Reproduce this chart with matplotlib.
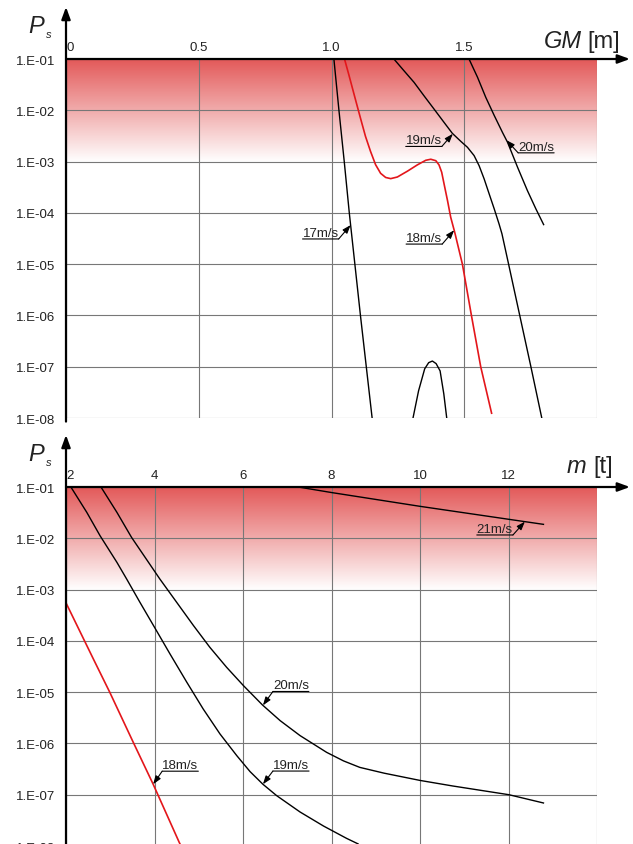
import numpy as np
import matplotlib
matplotlib.use('Agg')
import matplotlib.pyplot as plt

plt.rcParams['font.family'] = ['Liberation Sans', 'DejaVu Sans']

# ---- upper panel: P_s against GM [m] ----
gm_17 = [1.009, 1.028, 1.048, 1.067, 1.088, 1.109, 1.131, 1.153]
ps_17 = [1e-1, 1e-2, 1e-3, 1e-4, 1e-5, 1e-6, 1e-7, 1e-8]
gm_17b = [1.307, 1.328, 1.351, 1.366, 1.380, 1.394, 1.409, 1.423, 1.434]
ps_17b = [1e-8, 3.4e-8, 9.1e-8, 1.2e-7, 1.29e-7, 1.15e-7, 8.3e-8, 2.95e-8, 1e-8]
gm_18 = [1.049, 1.065, 1.082, 1.097, 1.112, 1.128, 1.147, 1.166, 1.185, 1.204,
         1.223, 1.248, 1.286, 1.323, 1.355, 1.374, 1.393, 1.405, 1.415, 1.424,
         1.437, 1.449, 1.464, 1.493, 1.527, 1.562, 1.603]
ps_18 = [1e-1, 5.0e-2, 2.34e-2, 1.2e-2, 6.2e-3, 3.1e-3, 1.58e-3, 8.7e-4, 5.9e-4, 4.9e-4,
         4.65e-4, 5.0e-4, 6.5e-4, 8.6e-4, 1.06e-3, 1.11e-3, 1.04e-3, 8.6e-4, 6.2e-4, 3.66e-4,
         1.73e-4, 8.2e-5, 4.2e-5, 1e-5, 1e-6, 1e-7, 1.24e-8]
gm_19 = [1.235, 1.273, 1.311, 1.348, 1.386, 1.424, 1.455, 1.487, 1.512, 1.537,
         1.556, 1.575, 1.594, 1.613, 1.631, 1.642, 1.667, 1.709, 1.751, 1.792]
ps_19 = [1e-1, 5.9e-2, 3.5e-2, 1.93e-2, 1.06e-2, 5.8e-3, 3.56e-3, 2.48e-3, 1.9e-3, 1.31e-3,
         8.3e-4, 4.58e-4, 2.33e-4, 1.19e-4, 6.1e-5, 3.9e-5, 1e-5, 1e-6, 1e-7, 1e-8]
gm_20 = [1.518, 1.550, 1.581, 1.613, 1.644, 1.663, 1.701, 1.738, 1.770, 1.799]
ps_20 = [1e-1, 4.4e-2, 1.79e-2, 7.9e-3, 3.7e-3, 2.38e-3, 7.7e-4, 2.71e-4, 1.19e-4, 5.9e-5]

# ---- lower panel: P_s against m [t] ----
m_18 = [2.0, 2.62, 2.99, 3.52, 3.97, 4.56, 4.60]
pm_18 = [5.5e-4, 4.4e-5, 9.9e-6, 1.05e-6, 1.6e-7, 1.17e-8, 1e-8]
m_19 = [2.11, 2.47, 2.77, 3.15, 3.37, 3.67, 4.0, 4.35, 4.73, 5.10, 5.48, 5.86,
        6.16, 6.45, 6.76, 7.29, 7.82, 8.34, 8.60]
pm_19 = [1e-1, 3.2e-2, 1.12e-2, 3.4e-3, 1.61e-3, 5.66e-4, 1.84e-4, 5.56e-5, 1.56e-5,
         4.7e-6, 1.53e-6, 5.77e-7, 2.82e-7, 1.6e-7, 9.6e-8, 4.6e-8, 2.45e-8,
         1.41e-8, 1.1e-8]
m_20 = [2.79, 3.15, 3.48, 4.12, 4.50, 4.88, 5.25, 5.63, 6.01, 6.44, 6.84, 7.29,
        7.89, 8.27, 8.64, 9.19, 10.0, 10.74, 12.01, 12.79]
pm_20 = [1e-1, 3.21e-2, 1.045e-2, 1.61e-3, 5.66e-4, 1.99e-4, 7.5e-5, 3.05e-5,
         1.34e-5, 5.62e-6, 2.78e-6, 1.42e-6, 6.7e-7, 4.57e-7, 3.41e-7, 2.63e-7,
         1.9e-7, 1.48e-7, 1e-7, 6.9e-8]
m_21 = [7.25, 8.0, 10.0, 12.0, 12.79]
pm_21 = [1e-1, 7.8e-2, 4.2e-2, 2.35e-2, 1.87e-2]

y_ticks = [1e-1, 1e-2, 1e-3, 1e-4, 1e-5, 1e-6, 1e-7, 1e-8]
y_labels = ['1.E-01', '1.E-02', '1.E-03', '1.E-04', '1.E-05', '1.E-06', '1.E-07', '1.E-08']
gm_ticks = [0, 0.5, 1.0, 1.5, 2.0]
gm_labels = ['0', '0.5', '1.0', '1.5', '']
m_ticks = [2, 4, 6, 8, 10, 12, 14]
m_labels = ['2', '4', '6', '8', '10', '12', '']

RED = '#e3161b'
FS = 9.5


def tag(ax, xs, ys, x0, text, dx, dy):
    y0 = 10 ** np.interp(x0, xs, np.log10(ys))
    ha = 'right' if dx < 0 else 'left'
    t = ax.annotate(text, xy=(x0, y0), xytext=(dx, dy), textcoords='offset points',
                    ha=ha, va='bottom', fontsize=FS, color='#222222')
    ax.annotate('', xy=(0, 0), xycoords=t, xytext=(1, 0), textcoords=t,
                arrowprops=dict(arrowstyle='-', lw=0.8, color='k', shrinkA=0, shrinkB=0))
    ax.annotate('', xy=(x0, y0), xytext=(dx, dy), textcoords='offset points',
                arrowprops=dict(arrowstyle='-|>,head_length=0.5,head_width=0.18',
                                lw=0.8, color='k', shrinkA=0, shrinkB=0,
                                mutation_scale=10))


def setup(ax, xlim, ticks, labels, xname, unit, ylab_y):
    # red gradient between 1E-01 and 1E-03
    grad = np.linspace(0, 1, 256)[:, None]
    top = np.array([0.89, 0.35, 0.35])
    img = top[None, None, :] * (1 - grad[:, :, None]) + grad[:, :, None]
    ax.imshow(img, extent=[0, 1, 5 / 7, 1], transform=ax.transAxes,
              aspect='auto', zorder=0, interpolation='bilinear')
    ax.set_yscale('log')
    ax.set_xlim(*xlim)
    ax.set_ylim(1e-8, 1e-1)
    ax.set_xticks(ticks)
    ax.set_xticklabels(labels, fontsize=FS, color='#222222')
    ax.xaxis.tick_top()
    ax.get_xticklabels()[0].set_ha('left')
    ax.set_yticks(y_ticks)
    ax.set_yticklabels(y_labels, fontsize=FS, color='#222222')
    ax.minorticks_off()
    ax.tick_params(length=0)
    ax.tick_params(axis='x', pad=4)
    ax.tick_params(axis='y', pad=8)
    ax.grid(True, color='#777777', lw=0.8)
    for s in ax.spines.values():
        s.set_visible(False)
    arrow = dict(arrowstyle='-|>,head_length=0.6,head_width=0.22', lw=1.6,
                 color='k', shrinkA=0, shrinkB=0, mutation_scale=12)
    ax.annotate('', xy=(1.062, 1), xycoords='axes fraction', xytext=(0, 1),
                textcoords='axes fraction', arrowprops=arrow, annotation_clip=False)
    ax.annotate('', xy=(0, 1.145), xycoords='axes fraction', xytext=(0, -0.01),
                textcoords='axes fraction', arrowprops=arrow, annotation_clip=False)
    ax.text(-0.0716, 1.074, 'P', style='italic', fontsize=17, transform=ax.transAxes,
            ha='left', va='baseline', color='#222222')
    ax.text(-0.038, 1.062, 's', style='italic', fontsize=8, transform=ax.transAxes,
            ha='left', va='baseline', color='#222222')
    ax.text(xname[1], ylab_y, xname[0], style='italic', fontsize=17,
            transform=ax.transAxes, ha='right', va='baseline', color='#222222')
    ax.text(unit[1], ylab_y, unit[0], fontsize=17, transform=ax.transAxes,
            ha='right', va='baseline', color='#222222')


fig = plt.figure(figsize=(6.33, 8.45), dpi=100)
ax1 = fig.add_axes([0.10427, 0.50414, 0.83886, 0.42485])
ax2 = fig.add_axes([0.10427, -0.00237, 0.83886, 0.42485])

setup(ax1, (0, 2.0), gm_ticks, gm_labels, ('GM', 0.972), ('[m]', 1.043), 1.033)
ax1.plot(gm_17, ps_17, color='k', lw=1.0)
ax1.plot(gm_17b, ps_17b, color='k', lw=1.0)
ax1.plot(gm_18, ps_18, color=RED, lw=1.2)
ax1.plot(gm_19, ps_19, color='k', lw=1.0)
ax1.plot(gm_20, ps_20, color='k', lw=1.0)
tag(ax1, gm_17, ps_17, 1.072, '17m/s', -8.6, -10)
tag(ax1, gm_18, ps_18, 1.462, '18m/s', -8.6, -10)
tag(ax1, gm_19, ps_19, 1.457, '19m/s', -7.9, -9.1)
tag(ax1, gm_20, ps_20, 1.659, '20m/s', 8.4, -9.1)

setup(ax2, (2, 14), m_ticks, m_labels, ('m', 0.979), ('[t]', 1.030), 1.042)
ax2.plot(m_18, pm_18, color=RED, lw=1.2)
ax2.plot(m_19, pm_19, color='k', lw=1.0)
ax2.plot(m_20, pm_20, color='k', lw=1.0)
ax2.plot(m_21, pm_21, color='k', lw=1.0)
tag(ax2, m_21, pm_21, 12.37, '21m/s', -8.6, -9.6)
tag(ax2, m_20, pm_20, 6.45, '20m/s', 7.2, 10)
tag(ax2, m_19, pm_19, 6.45, '19m/s', 7.2, 9.5)
tag(ax2, m_18, pm_18, 3.97, '18m/s', 6.5, 9.4)

fig.savefig('out.png', dpi=100)
